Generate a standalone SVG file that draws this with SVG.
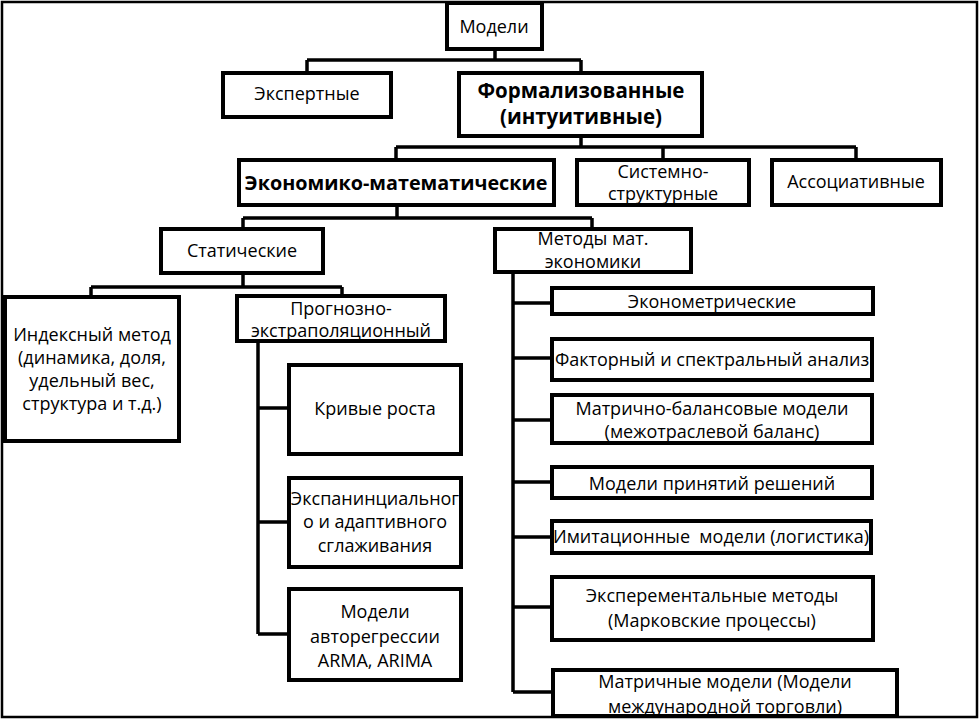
<svg xmlns="http://www.w3.org/2000/svg" width="979" height="722" viewBox="0 0 979 722">
<style>
.box{fill:#fff;stroke:#000;stroke-width:4}
.conn{fill:none;stroke:#000;stroke-width:3.5}
text{font-family:"Open Sans","Noto Sans","Liberation Sans",sans-serif;font-size:18px;fill:#000;text-anchor:middle}
.b{font-weight:bold;font-size:20.5px}
.frame{fill:none;stroke:#000;stroke-width:2.5}
</style>
<rect class="frame" x="2" y="2" width="975" height="715"/>
<g id="connectors">
<path class="conn" d="M495 51V60M307 60H581M307 60V71M581 60V71"/>
<path class="conn" d="M581 138V147M396 147H856M396 147V158M663 147V158M856 147V158"/>
<path class="conn" d="M397 207V218M243 218H592M243 218V227M592 218V227"/>
<path class="conn" d="M243 275V287M91 287H342M91 287V295M342 287V294"/>
<path class="conn" d="M258 343V634M258 408H289M258 522H289M258 634H289"/>
<path class="conn" d="M513 274V692M513 303H552M513 358H552M513 420H552M513 482H552M513 537H552M513 607H552M513 692H553"/>
</g>
<g id="n-modeli"><rect class="box" x="447" y="3" width="95" height="46"/><text x="494" y="33">Модели</text></g>
<g id="n-expert"><rect class="box" x="223" y="73" width="168" height="44"/><text x="307" y="100">Экспертные</text></g>
<g id="n-formal"><rect class="box" x="459" y="73" width="243" height="63"/><text class="b" x="581" y="98">Формализованные</text><text class="b" x="581" y="124">(интуитивные)</text></g>
<g id="n-econmat"><rect class="box" x="239" y="160" width="315" height="45"/><text class="b" x="396" y="190" style="font-size:19.8px">Экономико-математические</text></g>
<g id="n-system"><rect class="box" x="577" y="160" width="172" height="45"/><text x="663" y="178">Системно-</text><text x="663" y="200">структурные</text></g>
<g id="n-assoc"><rect class="box" x="772" y="160" width="169" height="45"/><text x="856" y="188">Ассоциативные</text></g>
<g id="n-static"><rect class="box" x="161" y="229" width="162" height="44"/><text x="242" y="257">Статические</text></g>
<g id="n-methods"><rect class="box" x="495" y="229" width="196" height="43"/><text x="593" y="245">Методы мат.</text><text x="593" y="268">экономики</text></g>
<g id="n-index"><rect class="box" x="5" y="297" width="174" height="144"/><text x="92" y="341">Индексный метод</text><text x="92" y="364">(динамика, доля,</text><text x="92" y="387">удельный вес,</text><text x="92" y="410">структура и т.д.)</text></g>
<g id="n-prognoz"><rect class="box" x="237" y="296" width="208" height="45"/><text x="341" y="315">Прогнозно-</text><text x="341" y="337">экстраполяционный</text></g>
<g id="n-krivye"><rect class="box" x="289" y="365" width="172" height="89"/><text x="375" y="415">Кривые роста</text></g>
<g id="n-expan"><rect class="box" x="289" y="478" width="172" height="89"/><text x="375" y="505">Экспанинциальног</text><text x="375" y="528">о и адаптивного</text><text x="375" y="552">сглаживания</text></g>
<g id="n-autoreg"><rect class="box" x="289" y="589" width="172" height="91"/><text x="375" y="618">Модели</text><text x="375" y="643">авторегрессии</text><text x="375" y="667">ARMA, ARIMA</text></g>
<g id="n-econometric"><rect class="box" x="552" y="288" width="321" height="26"/><text x="712" y="308">Эконометрические</text></g>
<g id="n-factor"><rect class="box" x="552" y="339" width="320" height="41"/><text x="712" y="366">Факторный и спектральный анализ</text></g>
<g id="n-matrbal"><rect class="box" x="552" y="395" width="320" height="48"/><text x="712" y="415">Матрично-балансовые модели</text><text x="712" y="438">(межотраслевой баланс)</text></g>
<g id="n-decision"><rect class="box" x="552" y="467" width="320" height="31"/><text x="712" y="490">Модели принятий решений</text></g>
<g id="n-imit"><rect class="box" x="552" y="521" width="319" height="32"/><text x="711" y="543" style="white-space:pre">Имитационные  модели (логистика)</text></g>
<g id="n-exper"><rect class="box" x="552" y="577" width="321" height="63"/><text x="712" y="602">Эксперементальные методы</text><text x="712" y="627">(Марковские процессы)</text></g>
<g id="n-matrix"><rect class="box" x="553" y="670" width="344" height="46"/><text x="725" y="688">Матричные модели (Модели</text><text x="725" y="713">международной торговли)</text></g>
</svg>
